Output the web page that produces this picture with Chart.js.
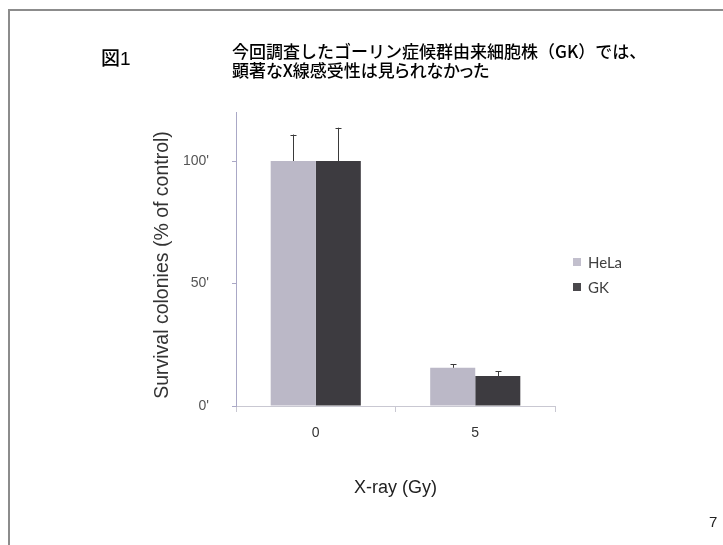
<!DOCTYPE html>
<html lang="ja">
<head>
<meta charset="utf-8">
<title>図1 X線感受性</title>
<script src="https://cdn.jsdelivr.net/npm/chart.js@4/dist/chart.umd.min.js"></script>
<style>
  html, body { margin: 0; padding: 0; background: #ffffff; }
  #page { position: relative; width: 723px; height: 545px; overflow: hidden; background: #ffffff; }
  #frame { position: absolute; left: 8px; top: 9px; right: -4px; bottom: -4px;
           border-left: 2px solid #8c8c8c; border-top: 2px solid #8c8c8c; }
  #chart { position: absolute; left: 0; top: 0; }
  .txt { position: absolute; white-space: nowrap; color: #000; }
  #fig { left: 101px; top: 43px; font: 500 19px "Liberation Sans", Arial, sans-serif; }
  #fig .k { font-family: "Noto Sans CJK JP", sans-serif; font-weight: 500; }
  #heading { left: 232px; top: 41px; font: 500 17px/19px "Noto Sans CJK JP", sans-serif; }
  #heading .l2 { font-feature-settings: "palt"; }
  #pageno { left: 709px; top: 513px; font: 15px "Liberation Sans", Arial, sans-serif; color: #222; }
</style>
</head>
<body>
<div id="page">
  <div id="frame"></div>
  <canvas id="chart" width="723" height="545"></canvas>
  <div class="txt" id="fig"><span class="k">図</span>1</div>
  <div class="txt" id="heading">今回調査したゴーリン症候群由来細胞株（GK）では、<br><span class="l2">顕著なX線感受性は見られなかった</span></div>
  <div class="txt" id="pageno">7</div>
</div>
<script>
// X-ray dose groups (Gy)
const doses = ['0', '5'];
// Surviving colonies, % of unirradiated control
const helaValues = [100, 15.6];
const gkValues = [100, 12.2];
// Upper error bars (SD)
const helaErrors = [10.8, 1.5];
const gkErrors = [13.6, 1.9];
// Y axis ticks and their printed labels
const yTickValues = [0, 50, 100];
const yTickLabels = ["0'", "50'", "100'"];
const yAxisTitle = 'Survival colonies (% of control)';
const xAxisTitle = 'X-ray (Gy)';

const seriesNames = ['HeLa', 'GK'];
const seriesColors = ['#bbb8c7', '#3d3b40'];
const legendColors = ['#c2bfcd', '#4a484c'];

// Upper-only error bars with a small cap, placed by the bar elements
const errorBars = {
  id: 'errorBars',
  afterDatasetsDraw(chart) {
    const ctx = chart.ctx;
    const y = chart.scales.y;
    ctx.save();
    ctx.strokeStyle = '#3a3a3a';
    ctx.lineWidth = 1;
    chart.data.datasets.forEach((ds, di) => {
      const meta = chart.getDatasetMeta(di);
      meta.data.forEach((bar, i) => {
        const v = ds.data[i];
        const top = y.getPixelForValue(v + ds.errors[i]);
        const x = Math.round(bar.x) + 0.5;
        ctx.beginPath();
        ctx.moveTo(x, bar.y);
        ctx.lineTo(x, top);
        ctx.moveTo(x - 3, Math.round(top) + 0.5);
        ctx.lineTo(x + 3, Math.round(top) + 0.5);
        ctx.stroke();
      });
    });
    ctx.restore();
  }
};

// Rotated y-axis title, sitting a little below the plot's mid-height
const yTitle = {
  id: 'yTitle',
  afterDraw(chart) {
    const ctx = chart.ctx;
    const area = chart.chartArea;
    ctx.save();
    ctx.translate(chart.scales.y.left + 12.5, (area.top + area.bottom) / 2 + 6);
    ctx.rotate(-Math.PI / 2);
    ctx.font = '19.5px "Liberation Sans", Arial, sans-serif';
    ctx.fillStyle = '#333';
    ctx.textAlign = 'center';
    ctx.textBaseline = 'middle';
    ctx.fillText(yAxisTitle, 0, 0);
    ctx.restore();
  }
};

// Legend at the right of the plot
const sideLegend = {
  id: 'sideLegend',
  afterDraw(chart) {
    const ctx = chart.ctx;
    ctx.save();
    ctx.font = '15px Lato, "Open Sans", sans-serif';
    ctx.textBaseline = 'middle';
    chart.data.datasets.forEach((ds, i) => {
      const cy = 262 + i * 25;
      ctx.fillStyle = legendColors[i];
      ctx.fillRect(573, cy - 4, 8, 8);
      ctx.fillStyle = '#404040';
      ctx.fillText(ds.label, 588, cy + 1);
    });
    ctx.restore();
  }
};

new Chart(document.getElementById('chart'), {
  type: 'bar',
  data: {
    labels: doses,
    datasets: [
      { label: seriesNames[0], data: helaValues, errors: helaErrors, backgroundColor: seriesColors[0] },
      { label: seriesNames[1], data: gkValues, errors: gkErrors, backgroundColor: seriesColors[1] }
    ]
  },
  options: {
    responsive: false,
    animation: false,
    devicePixelRatio: 1,
    layout: { padding: { left: 150, right: 168, top: 112, bottom: 46 } },
    datasets: { bar: { categoryPercentage: 0.565, barPercentage: 1.0 } },
    plugins: { legend: { display: false }, tooltip: { enabled: false } },
    scales: {
      x: {
        afterFit: (s) => { s.height = 93; },
        grid: { drawOnChartArea: false, tickLength: 6, color: '#c9c8d2', offset: true },
        border: { color: '#c9c8d2', width: 1 },
        ticks: { padding: 13, color: '#333', font: { family: '"Liberation Sans", Arial, sans-serif', size: 14 } },
        title: {
          display: true, text: xAxisTitle, color: '#222',
          font: { family: '"Liberation Sans", Arial, sans-serif', size: 18 },
          padding: { top: 0, bottom: 0 }
        }
      },
      y: {
        min: 0, max: 120,
        afterFit: (s) => { s.width = 86; },
        afterBuildTicks: (s) => { s.ticks = yTickValues.map(v => ({ value: v })); },
        grid: { drawOnChartArea: false, tickLength: 4, color: '#aaa8c6' },
        border: { color: '#aaa8c6', width: 1 },
        ticks: {
          padding: 23, color: '#555',
          font: { family: '"Liberation Sans", Arial, sans-serif', size: 14 },
          callback: (value) => yTickLabels[yTickValues.indexOf(value)]
        },
        title: { display: false }
      }
    }
  },
  plugins: [errorBars, yTitle, sideLegend]
});
</script>
</body>
</html>
